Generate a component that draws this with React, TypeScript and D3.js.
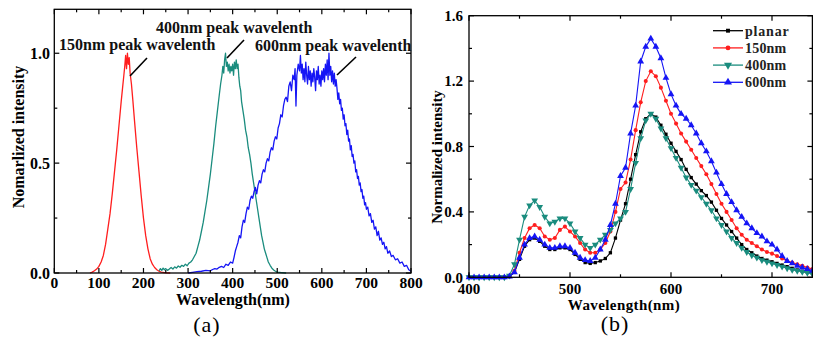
import React, { useRef, useEffect } from 'react';
import * as d3 from 'd3';

const W = 813;
const H = 344;
const serif = "'Liberation Serif', 'Times New Roman', serif";

const RED = '#ff1e1e';
const TEAL = '#1a8c7e';
const BLUE = '#1515f5';

// ---- panel (a): emission spectra, [wavelength nm, normalized intensity]
const spec150: [number, number][] = [
  [80, 0], [85, 0.004], [90, 0.01], [95, 0.018], [100, 0.03], [105, 0.05], [110, 0.08], [115, 0.13],
  [120, 0.2], [125, 0.27], [130, 0.36], [135, 0.46], [140, 0.56], [145, 0.67], [150, 0.78], [153, 0.84],
  [156, 0.9], [158, 0.94], [160, 0.99], [162, 0.93], [164, 1.0], [166, 0.95], [168, 0.98], [170, 0.91],
  [173, 0.86], [176, 0.79], [180, 0.69], [185, 0.57], [190, 0.46], [195, 0.35], [200, 0.25], [205, 0.17],
  [210, 0.11], [215, 0.065], [220, 0.04], [225, 0.025], [230, 0.015], [235, 0.008], [240, 0.004],
  [250, 0.001], [260, 0],
];

const spec400: [number, number][] = [
  [235, 0.01], [238, 0.02], [241, 0.012], [244, 0.022], [247, 0.015], [250, 0.02], [254, 0.012],
  [258, 0.018], [262, 0.025], [266, 0.018], [270, 0.028], [274, 0.022], [278, 0.032], [282, 0.026],
  [286, 0.035], [290, 0.03], [294, 0.04], [298, 0.033], [302, 0.045], [306, 0.05], [310, 0.06],
  [314, 0.075], [318, 0.09], [322, 0.12], [326, 0.15], [330, 0.19], [334, 0.23], [338, 0.28],
  [342, 0.33], [346, 0.39], [350, 0.45], [354, 0.52], [358, 0.59], [362, 0.67], [366, 0.74],
  [370, 0.81], [373, 0.86], [376, 0.9], [378, 0.94], [380, 0.91], [382, 0.97], [384, 1.0], [386, 0.94],
  [388, 0.96], [390, 0.92], [392, 0.95], [394, 0.91], [396, 0.94], [398, 0.92], [400, 0.95], [402, 0.9],
  [404, 0.96], [406, 0.93], [408, 0.97], [410, 0.93], [412, 0.95], [414, 0.89], [416, 0.85], [418, 0.83],
  [420, 0.78], [423, 0.74], [426, 0.7], [429, 0.65], [432, 0.62], [435, 0.57], [438, 0.54], [441, 0.5],
  [444, 0.45], [447, 0.41], [450, 0.37], [453, 0.33], [456, 0.29], [459, 0.25], [462, 0.21], [465, 0.17],
  [468, 0.14], [471, 0.11], [474, 0.09], [477, 0.07], [480, 0.05], [484, 0.035], [488, 0.022],
  [492, 0.014], [496, 0.008], [500, 0.004], [510, 0.002], [520, 0],
];

const spec600: [number, number][] = [
  [300, 0], [310, 0.003], [320, 0.006], [330, 0.008], [340, 0.012], [350, 0.01], [355, 0.016],
  [360, 0.02], [365, 0.018], [370, 0.026], [375, 0.03], [380, 0.025], [385, 0.04], [390, 0.035],
  [395, 0.05], [400, 0.045], [403, 0.07], [406, 0.1], [409, 0.12], [412, 0.14], [415, 0.17], [418, 0.16],
  [421, 0.21], [424, 0.24], [427, 0.23], [430, 0.27], [433, 0.3], [436, 0.29], [439, 0.33], [442, 0.35],
  [445, 0.34], [448, 0.37], [451, 0.39], [454, 0.36], [457, 0.4], [460, 0.42], [463, 0.41], [466, 0.45],
  [469, 0.47], [472, 0.46], [475, 0.5], [478, 0.52], [481, 0.51], [484, 0.55], [487, 0.57], [490, 0.56],
  [493, 0.6], [496, 0.62], [499, 0.61], [502, 0.66], [505, 0.68], [508, 0.72], [511, 0.71], [514, 0.76],
  [517, 0.79], [520, 0.8], [523, 0.78], [526, 0.85], [529, 0.87], [532, 0.83], [535, 0.9], [538, 0.88],
  [540, 0.93], [542, 0.76], [544, 0.9], [547, 0.95], [550, 0.92], [552, 0.99], [554, 0.91], [556, 0.95],
  [558, 0.88], [560, 0.93], [562, 0.87], [564, 0.96], [566, 0.9], [568, 0.86], [570, 0.94], [572, 0.88],
  [574, 0.92], [576, 0.85], [578, 0.91], [580, 0.87], [582, 0.93], [584, 0.89], [586, 0.83], [588, 0.92],
  [590, 0.88], [592, 0.94], [594, 0.86], [596, 0.9], [598, 0.85], [600, 0.92], [602, 0.88], [604, 0.93],
  [606, 0.87], [608, 0.95], [610, 0.9], [612, 0.97], [614, 0.88], [616, 1.0], [618, 0.9], [620, 0.94],
  [622, 0.87], [624, 0.92], [626, 0.86], [628, 0.91], [630, 0.85], [632, 0.88], [634, 0.84], [636, 0.79],
  [638, 0.82], [640, 0.77], [642, 0.79], [644, 0.74], [646, 0.75], [648, 0.7], [650, 0.72], [652, 0.67],
  [654, 0.68], [656, 0.63], [658, 0.65], [660, 0.6], [662, 0.61], [664, 0.56], [666, 0.58], [668, 0.53],
  [670, 0.54], [672, 0.5], [674, 0.51], [676, 0.46], [678, 0.47], [680, 0.43], [682, 0.44], [684, 0.4],
  [686, 0.41], [688, 0.37], [690, 0.38], [692, 0.34], [694, 0.35], [696, 0.31], [698, 0.32], [700, 0.29],
  [703, 0.3], [706, 0.26], [709, 0.27], [712, 0.23], [715, 0.24], [718, 0.2], [721, 0.21], [724, 0.17],
  [727, 0.19], [730, 0.15], [733, 0.16], [736, 0.13], [739, 0.14], [742, 0.11], [745, 0.12], [748, 0.09],
  [752, 0.1], [756, 0.075], [760, 0.08], [765, 0.06], [770, 0.065], [775, 0.045], [780, 0.05],
  [785, 0.03], [790, 0.035], [795, 0.015], [800, 0.008],
];

const annotations = [
  { text: '150nm peak wavelenth', tx: 59, ty: 50, from: [147, 58], to: [130, 76] },
  { text: '400nm peak wavelenth', tx: 156, ty: 33, from: [244, 40], to: [227, 58] },
  { text: '600nm peak wavelenth', tx: 255, ty: 51, from: [356, 57], to: [337, 75] },
];

const xTicksA = [0, 100, 200, 300, 400, 500, 600, 700, 800];
const xMinorA = [50, 150, 250, 350, 450, 550, 650, 750];
const yTicksA = [0, 0.5, 1.0];
const yMinorA = [0.25, 0.75];

// ---- panel (b): PL spectra, sampled every 5 nm from 400 to 740 nm
const wavelengthsB = d3.range(400, 741, 5);
const planar = [
  0, 0, 0, 0, 0, 0, 0, 0,
  0.005, 0.03, 0.11, 0.19, 0.23, 0.24, 0.22, 0.19, 0.17, 0.17, 0.18, 0.18, 0.17, 0.14, 0.11, 0.09,
  0.085, 0.09, 0.1, 0.115, 0.15, 0.24, 0.35, 0.45, 0.6, 0.75, 0.89, 0.97, 1.0, 0.98, 0.93, 0.875,
  0.82, 0.77, 0.72, 0.66, 0.61, 0.57, 0.53, 0.5, 0.46, 0.41, 0.36, 0.32, 0.28, 0.24, 0.2, 0.17,
  0.15, 0.13, 0.115, 0.105, 0.095, 0.085, 0.075, 0.065, 0.055, 0.045, 0.037, 0.03, 0.025,
];
const nm150 = [
  0, 0, 0, 0, 0, 0, 0, 0,
  0.005, 0.04, 0.15, 0.24, 0.3, 0.32, 0.3, 0.25, 0.23, 0.24, 0.29, 0.31, 0.28, 0.25, 0.21, 0.17,
  0.15, 0.15, 0.17, 0.21, 0.28, 0.4, 0.54, 0.58, 0.72, 0.9, 1.07, 1.2, 1.26, 1.23, 1.16, 1.08,
  1.0, 0.94, 0.88, 0.83, 0.78, 0.73, 0.68, 0.63, 0.57, 0.51, 0.45, 0.4, 0.35, 0.3, 0.26, 0.23,
  0.21, 0.19, 0.17, 0.155, 0.145, 0.13, 0.115, 0.1, 0.09, 0.08, 0.07, 0.06, 0.05,
];
const nm400 = [
  0, 0, 0, 0, 0, 0, 0, 0,
  0.01, 0.08, 0.23, 0.37, 0.44, 0.47, 0.43, 0.37, 0.33, 0.34, 0.36, 0.36, 0.33, 0.28, 0.24, 0.2,
  0.18, 0.2, 0.23, 0.26, 0.29, 0.33, 0.36, 0.4, 0.54, 0.7, 0.85, 0.96, 1.0, 0.97, 0.91, 0.85,
  0.79, 0.73, 0.67, 0.61, 0.565, 0.53, 0.49, 0.45, 0.41, 0.36, 0.32, 0.28, 0.24, 0.21, 0.18, 0.155,
  0.135, 0.12, 0.105, 0.095, 0.085, 0.075, 0.065, 0.055, 0.045, 0.04, 0.033, 0.028, 0.022,
];
const nm600 = [
  0, 0, 0, 0, 0, 0, 0, 0,
  0.005, 0.03, 0.12, 0.2, 0.24, 0.25, 0.23, 0.2, 0.18, 0.18, 0.19, 0.19, 0.18, 0.15, 0.12, 0.105,
  0.1, 0.12, 0.17, 0.23, 0.32, 0.45, 0.62, 0.67, 0.88, 1.05, 1.32, 1.41, 1.46, 1.41, 1.34, 1.22,
  1.12, 1.05, 1.0, 0.97, 0.93, 0.88, 0.82, 0.77, 0.71, 0.64, 0.57, 0.51, 0.46, 0.41, 0.37, 0.33,
  0.3, 0.27, 0.25, 0.22, 0.2, 0.17, 0.13, 0.1, 0.085, 0.07, 0.06, 0.05, 0.04,
];

const seriesB = [
  { name: 'planar', values: planar, color: '#000000', symbol: d3.symbolSquare, size: 11, rotate: 0 },
  { name: '150nm', values: nm150, color: RED, symbol: d3.symbolCircle, size: 13, rotate: 0 },
  { name: '400nm', values: nm400, color: TEAL, symbol: d3.symbolTriangle, size: 20, rotate: 180 },
  { name: '600nm', values: nm600, color: BLUE, symbol: d3.symbolTriangle, size: 20, rotate: 0 },
];

const xTicksB = [400, 500, 600, 700];
const xMinorB = [450, 550, 650];
const yTicksB = [0, 0.4, 0.8, 1.2, 1.6];
const yMinorB = [0.2, 0.6, 1.0, 1.4];

type Sel = d3.Selection<SVGGElement, unknown, null, undefined>;

function drawFrame(
  g: Sel,
  x: d3.ScaleLinear<number, number>,
  y: d3.ScaleLinear<number, number>,
  xMajor: number[], xMinor: number[], yMajor: number[], yMinor: number[],
) {
  const [x0, x1] = x.range();
  const [y0, y1] = y.range();
  const xt = [...xMajor.map(v => ({ v, l: 5 })), ...xMinor.map(v => ({ v, l: 3 }))];
  const yt = [...yMajor.map(v => ({ v, l: 5 })), ...yMinor.map(v => ({ v, l: 3 }))];

  xt.forEach(t => {
    g.append('line').attr('x1', x(t.v)).attr('x2', x(t.v)).attr('y1', y0).attr('y2', y0 - t.l)
      .attr('stroke', '#000').attr('stroke-width', 1.2);
    g.append('line').attr('x1', x(t.v)).attr('x2', x(t.v)).attr('y1', y1).attr('y2', y1 + t.l)
      .attr('stroke', '#000').attr('stroke-width', 1.2);
  });
  yt.forEach(t => {
    g.append('line').attr('x1', x0).attr('x2', x0 + t.l).attr('y1', y(t.v)).attr('y2', y(t.v))
      .attr('stroke', '#000').attr('stroke-width', 1.2);
    g.append('line').attr('x1', x1).attr('x2', x1 - t.l).attr('y1', y(t.v)).attr('y2', y(t.v))
      .attr('stroke', '#000').attr('stroke-width', 1.2);
  });
  g.append('rect')
    .attr('x', x0).attr('y', y1).attr('width', x1 - x0).attr('height', y0 - y1)
    .attr('fill', 'none').attr('stroke', '#000').attr('stroke-width', 1.3);
}

const App: React.FC = () => {
  const svgRef = useRef<SVGSVGElement>(null);

  useEffect(() => {
    if (!svgRef.current) return;
    const svg = d3.select(svgRef.current);
    svg.selectAll('*').remove();

    svg.append('rect').attr('width', W).attr('height', H).attr('fill', '#fff');

    // ================= panel (a)
    const xA = d3.scaleLinear().domain([0, 800]).range([54.3, 411]);
    const yA = d3.scaleLinear().domain([0, 1.2]).range([273, 9.3]);
    const gA = svg.append('g');

    const lineA = d3.line<[number, number]>().x(d => xA(d[0])).y(d => yA(d[1]));
    [
      { data: spec150, color: RED },
      { data: spec400, color: TEAL },
      { data: spec600, color: BLUE },
    ].forEach(s => {
      gA.append('path').attr('d', lineA(s.data)!).attr('fill', 'none')
        .attr('stroke', s.color).attr('stroke-width', 1.3).attr('stroke-linejoin', 'round');
    });

    drawFrame(gA, xA, yA, xTicksA, xMinorA, yTicksA, yMinorA);

    gA.selectAll('.xlab').data(xTicksA).enter().append('text')
      .attr('x', d => xA(d)).attr('y', 288).attr('text-anchor', 'middle')
      .attr('font-family', serif).attr('font-weight', 700).attr('font-size', 15.5)
      .text(d => d);
    gA.selectAll('.ylab').data(yTicksA).enter().append('text')
      .attr('x', 50).attr('y', d => yA(d)).attr('dy', '0.35em').attr('text-anchor', 'end')
      .attr('font-family', serif).attr('font-weight', 700).attr('font-size', 16)
      .text(d => d.toFixed(1));

    gA.append('text').attr('x', 233).attr('y', 305).attr('text-anchor', 'middle')
      .attr('font-family', serif).attr('font-weight', 700).attr('font-size', 16)
      .text('Wavelength(nm)');
    gA.append('text').attr('transform', 'translate(24,137) rotate(-90)').attr('text-anchor', 'middle')
      .attr('font-family', serif).attr('font-weight', 700).attr('font-size', 16)
      .text('Nomarlized intensity');
    gA.append('text').attr('x', 207).attr('y', 332).attr('text-anchor', 'middle')
      .attr('font-family', serif).attr('font-size', 22).attr('letter-spacing', 1)
      .text('(a)');

    annotations.forEach(a => {
      gA.append('text').attr('x', a.tx).attr('y', a.ty)
        .attr('font-family', serif).attr('font-weight', 700).attr('font-size', 16)
        .attr('fill', '#111').text(a.text);
      gA.append('line').attr('x1', a.from[0]).attr('y1', a.from[1]).attr('x2', a.to[0]).attr('y2', a.to[1])
        .attr('stroke', '#000').attr('stroke-width', 1.6);
    });

    // ================= panel (b)
    const xB = d3.scaleLinear().domain([400, 740]).range([469, 812.4]);
    const yB = d3.scaleLinear().domain([0, 1.6]).range([277.3, 15.7]);
    const gB = svg.append('g');

    const lineB = d3.line<number>().x((_, i) => xB(wavelengthsB[i])).y(d => yB(d));
    seriesB.forEach(s => {
      const sg = gB.append('g');
      sg.append('path').attr('d', lineB(s.values)!).attr('fill', 'none')
        .attr('stroke', s.color).attr('stroke-width', 1.1);
      const sym = d3.symbol().type(s.symbol).size(s.size);
      sg.selectAll('path.pt').data(s.values).enter().append('path')
        .attr('class', 'pt')
        .attr('transform', (d, i) => `translate(${xB(wavelengthsB[i])},${yB(d)}) rotate(${s.rotate})`)
        .attr('d', sym()!)
        .attr('fill', s.color);
    });

    drawFrame(gB, xB, yB, xTicksB, xMinorB, yTicksB, yMinorB);

    gB.selectAll('.xlab').data(xTicksB).enter().append('text')
      .attr('x', d => xB(d)).attr('y', 294).attr('text-anchor', 'middle')
      .attr('font-family', serif).attr('font-weight', 700).attr('font-size', 15)
      .text(d => d);
    gB.selectAll('.ylab').data(yTicksB).enter().append('text')
      .attr('x', 463).attr('y', d => yB(d)).attr('dy', '0.35em').attr('text-anchor', 'end')
      .attr('font-family', serif).attr('font-weight', 700).attr('font-size', 15)
      .text(d => d.toFixed(1));

    gB.append('text').attr('x', 624).attr('y', 310).attr('text-anchor', 'middle')
      .attr('font-family', serif).attr('font-weight', 700).attr('font-size', 15)
      .attr('letter-spacing', 0.4)
      .text('Wavelength(nm)');
    gB.append('text').attr('transform', 'translate(442,157) rotate(-90)').attr('text-anchor', 'middle')
      .attr('font-family', serif).attr('font-weight', 700).attr('font-size', 15)
      .text('Normalized intensity');
    gB.append('text').attr('x', 615).attr('y', 331).attr('text-anchor', 'middle')
      .attr('font-family', serif).attr('font-size', 22).attr('letter-spacing', 1)
      .text('(b)');

    // legend
    const legend = gB.append('g');
    seriesB.forEach((s, i) => {
      const ly = 30.7 + i * 17.2;
      legend.append('line').attr('x1', 713).attr('x2', 743).attr('y1', ly).attr('y2', ly)
        .attr('stroke', s.color).attr('stroke-width', 1.3);
      legend.append('path')
        .attr('transform', `translate(728,${ly}) rotate(${s.rotate})`)
        .attr('d', d3.symbol().type(s.symbol).size(s.size * 1.4)()!)
        .attr('fill', s.color);
      legend.append('text').attr('x', 745).attr('y', ly).attr('dy', '0.35em')
        .attr('font-family', serif).attr('font-weight', 700).attr('font-size', 14)
        .attr('letter-spacing', s.name === 'planar' ? 0.8 : 0.2)
        .attr('fill', '#222')
        .text(s.name);
    });
  }, []);

  return (
    <div style={{ position: 'absolute', left: 0, top: 0 }}>
      <svg ref={svgRef} width={W} height={H} style={{ display: 'block' }} />
    </div>
  );
};

export default App;
